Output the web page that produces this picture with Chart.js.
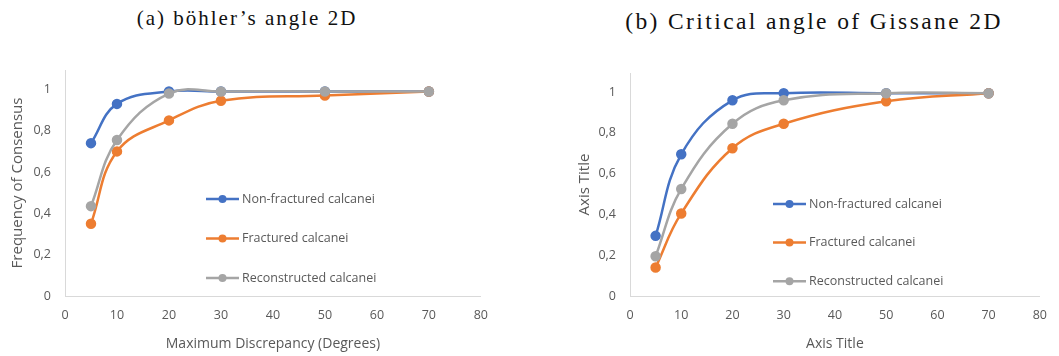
<!DOCTYPE html>
<html>
<head>
<meta charset="utf-8">
<script src="https://cdn.jsdelivr.net/npm/chart.js@4/dist/chart.umd.min.js"></script>
<style>
  body { margin: 0; background: #fff; width: 1059px; height: 356px; position: relative; overflow: hidden; }
  .box { position: absolute; top: 0; height: 356px; }
  .ttl { position: absolute; font-family: "Liberation Serif", serif; color: #111; white-space: nowrap; transform: translateX(-50%); line-height: 1; }
</style>
</head>
<body>
<div class="ttl" style="left:247px; top:8px; font-size:21px; letter-spacing:2px;">(a) böhler’s angle 2D</div>
<div class="ttl" style="left:814px; top:10px; font-size:23.5px; letter-spacing:2.4px;">(b) Critical angle of Gissane 2D</div>
<div class="box" style="left:0; width:500px;"><canvas id="chartA"></canvas></div>
<div class="box" style="left:560px; width:499px;"><canvas id="chartB"></canvas></div>
<script>
// x values (degrees)
const degrees = [5, 10, 20, 30, 50, 70];
const seriesNames = ['Non-fractured calcanei', 'Fractured calcanei', 'Reconstructed calcanei'];
const yTicks = [0, 0.2, 0.4, 0.6, 0.8, 1];
const xTicks = [0, 10, 20, 30, 40, 50, 60, 70, 80];

// (a) böhler's angle
const bohlerNonFractured = [0.74, 0.93, 0.99, 0.99, 0.99, 0.99];
const bohlerFractured = [0.35, 0.70, 0.85, 0.945, 0.97, 0.99];
const bohlerReconstructed = [0.435, 0.755, 0.98, 0.99, 0.99, 0.99];

// (b) critical angle of Gissane
const gissaneNonFractured = [0.295, 0.695, 0.96, 0.995, 0.995, 0.995];
const gissaneFractured = [0.14, 0.405, 0.725, 0.845, 0.955, 0.995];
const gissaneReconstructed = [0.195, 0.525, 0.845, 0.96, 0.995, 0.995];

const colors = ['#4472C4', '#ED7D31', '#A5A5A5'];
const textGray = '#595959';
const tickFont = { family: 'Open Sans', size: 12.5 };

const inLegend = {
  id: 'inLegend',
  afterDraw(chart, args, opts) {
    const ctx = chart.ctx;
    const a = chart.chartArea;
    chart.data.datasets.forEach((ds, i) => {
      const x = a.left + opts.left;
      const y = a.top + opts.top + i * opts.gap;
      ctx.save();
      ctx.strokeStyle = ds.borderColor;
      ctx.lineWidth = 2.5;
      ctx.beginPath();
      ctx.moveTo(x, y);
      ctx.lineTo(x + 33, y);
      ctx.stroke();
      ctx.fillStyle = ds.backgroundColor;
      ctx.beginPath();
      ctx.arc(x + 16.5, y, 4, 0, Math.PI * 2);
      ctx.fill();
      ctx.fillStyle = textGray;
      ctx.font = '12.5px "Open Sans"';
      ctx.textBaseline = 'middle';
      ctx.fillText(ds.label, x + 36, y);
      ctx.restore();
    });
  }
};

function makeSets(values) {
  return values.map((vals, i) => ({
    label: seriesNames[i],
    data: degrees.map((d, j) => ({ x: d, y: vals[j] })),
    borderColor: colors[i],
    backgroundColor: colors[i],
    borderWidth: 2.5,
    pointRadius: 4,
    pointHoverRadius: 4,
    tension: 0.4,
    order: 2 - i
  }));
}

function makeChart(id, values, xTitle, yTitle, pad, yAxisW, yTitlePad, legendPos) {
  return new Chart(document.getElementById(id), {
    type: 'line',
    data: { datasets: makeSets(values) },
    plugins: [inLegend],
    options: {
      responsive: true,
      maintainAspectRatio: false,
      animation: false,
      layout: { padding: pad },
      plugins: {
        legend: { display: false },
        tooltip: { enabled: false },
        inLegend: legendPos
      },
      scales: {
        x: {
          type: 'linear',
          min: 0,
          max: 80,
          afterBuildTicks: s => { s.ticks = xTicks.map(v => ({ value: v })); },
          afterFit: s => { s.height = 60; },
          grid: { display: true, drawOnChartArea: false, drawTicks: false },
          border: { display: true, color: '#D9D9D9', width: 1 },
          ticks: { color: textGray, font: tickFont, padding: 12, maxRotation: 0 },
          title: { display: true, text: xTitle, color: textGray, font: { family: 'Open Sans', size: 14 }, padding: { top: 0, bottom: 4 } }
        },
        y: {
          min: 0,
          max: 1.094,
          afterBuildTicks: s => { s.ticks = yTicks.map(v => ({ value: v })); },
          afterFit: s => { s.width = yAxisW; },
          grid: { display: true, drawOnChartArea: false, drawTicks: false },
          border: { display: true, color: '#D9D9D9', width: 1 },
          ticks: {
            color: textGray, font: tickFont, padding: 14,
            callback: v => String(Math.round(v * 10) / 10).replace('.', ',')
          },
          title: { display: true, text: yTitle, color: textGray, font: { family: 'Open Sans', size: 15 }, padding: { top: yTitlePad, bottom: 0 } }
        }
      }
    }
  });
}

makeChart('chartA',
  [bohlerNonFractured, bohlerFractured, bohlerReconstructed],
  'Maximum Discrepancy (Degrees)', 'Frequency of Consensus',
  { top: 70, right: 19, bottom: 0, left: 0 }, 65, 9,
  { left: 141, top: 129, gap: 39.5 });

makeChart('chartB',
  [gissaneNonFractured, gissaneFractured, gissaneReconstructed],
  'Axis Title', 'Axis Title',
  { top: 73, right: 10, bottom: 0, left: 0 }, 70, 16,
  { left: 143, top: 131, gap: 38.6 });
</script>
</body>
</html>
